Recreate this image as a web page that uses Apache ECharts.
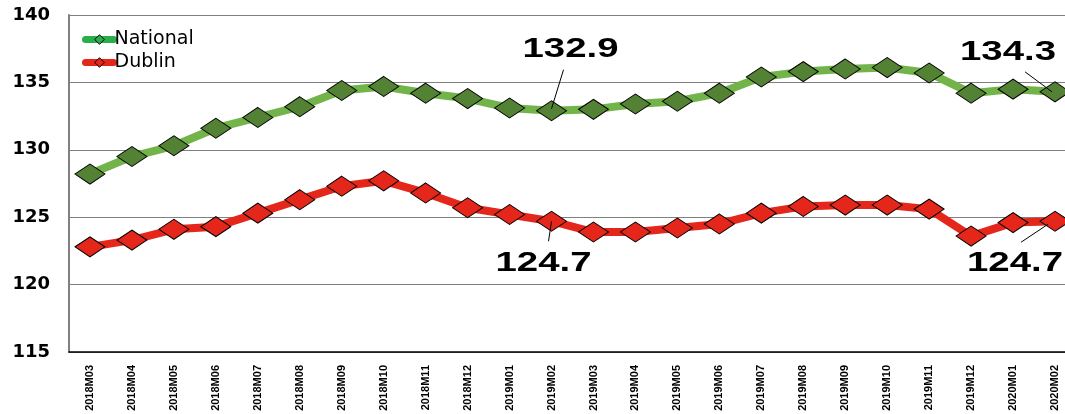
<!DOCTYPE html>
<html>
<head>
<meta charset="utf-8">
<script src="https://cdn.jsdelivr.net/npm/echarts@6/dist/echarts.min.js"></script>
<style>
html,body{margin:0;padding:0;background:#fff;}
#c{width:1065px;height:414px;}
</style>
</head>
<body>
<div id="c"></div>
<script>
const categories = ['2018M03','2018M04','2018M05','2018M06','2018M07','2018M08','2018M09','2018M10','2018M11','2018M12',
  '2019M01','2019M02','2019M03','2019M04','2019M05','2019M06','2019M07','2019M08','2019M09','2019M10','2019M11','2019M12',
  '2020M01','2020M02'];
const national = [128.2,129.5,130.3,131.6,132.4,133.2,134.4,134.7,134.2,133.8,
  133.1,132.9,133.0,133.4,133.6,134.2,135.4,135.8,136.0,136.1,135.7,134.2,134.5,134.3];
const dublin = [122.8,123.3,124.1,124.3,125.3,126.3,127.3,127.7,126.8,125.7,
  125.2,124.7,123.9,123.9,124.2,124.5,125.3,125.8,125.9,125.9,125.6,123.6,124.6,124.7];
const yTicks = [115,120,125,130,135,140];

// annotations: series index, category index, text offset, leader line offsets (start dx,dy, end dx,dy) from the point
const annotations = [
  {s:0, i:11, tx:19, ty:-61, l:[0,-2,12,-41]},
  {s:0, i:23, tx:-47, ty:-40, l:[-3,0,-30,-20]},
  {s:1, i:11, tx:-8, ty:42, l:[0,0,-3,20]},
  {s:1, i:23, tx:-40, ty:42, l:[-7,3,-34,21]}
];

const chart = echarts.init(document.getElementById('c'));
const option = {
  animation:false,
  grid:{left:69, right:-11, top:15, bottom:62, containLabel:false, outerBoundsMode:'none'},
  legend:{
    orient:'vertical', left:82, top:30, padding:0, itemWidth:28, itemHeight:12, itemGap:4,
    textStyle:{fontFamily:'DejaVu Sans', fontSize:19, lineHeight:16, color:'#000', padding:[0,0,0,-4]},
    data:[
      {name:'National', itemStyle:{color:'#2aae4c', borderColor:'#000', borderWidth:1},
        lineStyle:{color:'#2aae4c', width:7, cap:'round'}},
      {name:'Dublin', itemStyle:{color:'#e4261b', borderColor:'#000', borderWidth:1},
        lineStyle:{color:'#e4261b', width:7, cap:'round'}}
    ]
  },
  xAxis:{
    type:'category', data:categories, boundaryGap:true,
    axisLine:{lineStyle:{color:'#000', width:1.5}},
    axisTick:{show:false},
    axisLabel:{interval:0, rotate:90, fontFamily:'Liberation Sans', fontWeight:'bold', fontSize:11, color:'#000', margin:13}
  },
  yAxis:{
    type:'value', min:115, max:140, interval:5,
    axisLine:{show:true, lineStyle:{color:'#808080', width:2}},
    axisTick:{show:false},
    splitLine:{lineStyle:{color:'#808080', width:1.2}},
    axisLabel:{fontFamily:'DejaVu Sans', fontWeight:'bold', fontSize:18, color:'#000', margin:19}
  },
  series:[
    {name:'National', type:'line', data:national, symbol:'diamond', symbolSize:[30,20],
     lineStyle:{color:'#72b34a', width:8}, itemStyle:{color:'#548235', borderColor:'#000', borderWidth:1},
     z:3},
    {name:'Dublin', type:'line', data:dublin, symbol:'diamond', symbolSize:[30,20],
     lineStyle:{color:'#e4261b', width:8}, itemStyle:{color:'#e4261b', borderColor:'#000', borderWidth:1},
     z:2}
  ]
};
chart.setOption(option);

const seriesData = [national, dublin];
const g = [];
annotations.forEach(a => {
  const v = seriesData[a.s][a.i];
  const p = chart.convertToPixel({seriesIndex:a.s}, [a.i, v]);
  g.push({type:'line', z:100, shape:{x1:p[0]+a.l[0], y1:p[1]+a.l[1], x2:p[0]+a.l[2], y2:p[1]+a.l[3]},
    style:{stroke:'#000', lineWidth:1}});
  g.push({type:'text', z:100, x:p[0]+a.tx, y:p[1]+a.ty, scaleX:1.37,
    style:{text:v.toFixed(1), fontFamily:'Liberation Sans', fontWeight:'bold', fontSize:28, fill:'#000',
      align:'center', verticalAlign:'middle'}});
});
chart.setOption({graphic:g});
</script>
</body>
</html>
